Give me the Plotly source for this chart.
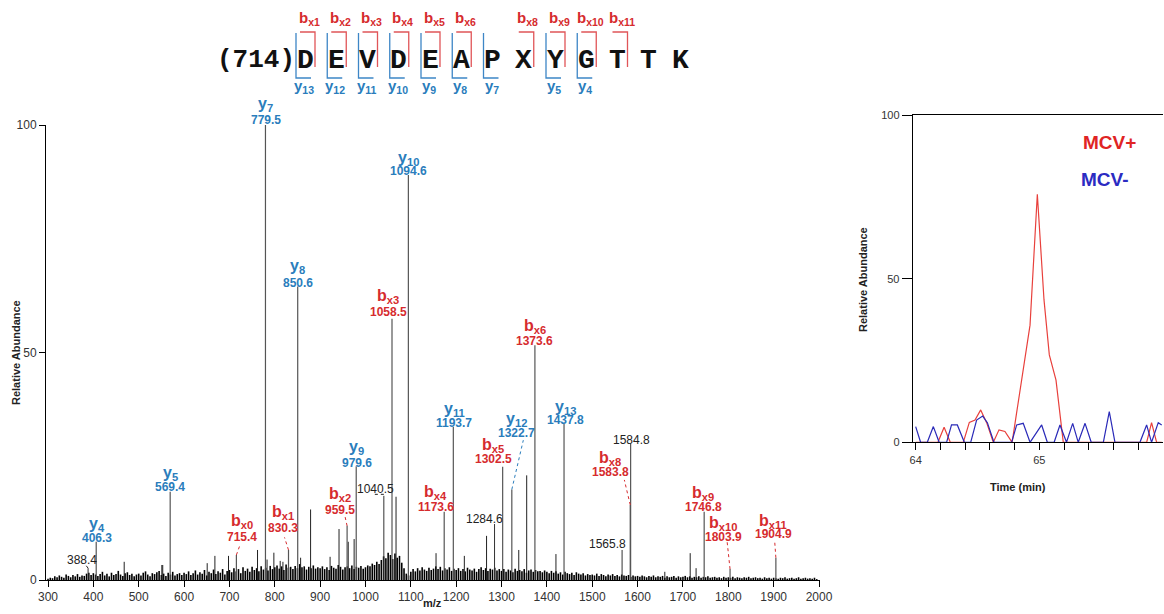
import numpy as np
import plotly.graph_objects as go

W, H = 1164, 614

# ---------------- MS/MS spectrum ----------------
ion_names = ["y4", "y5", "y7", "y8", "y9", "y10", "y11", "y12", "y13",
             "bx0", "bx1", "bx2", "bx3", "bx4", "bx5", "bx6", "bx8", "bx9", "bx10", "bx11"]
ion_mz = [406.3, 569.4, 779.5, 850.6, 979.6, 1094.6, 1193.7, 1322.7, 1437.8,
          715.4, 830.3, 959.5, 1058.5, 1173.6, 1302.5, 1373.6, 1583.8, 1746.8, 1803.9, 1904.9]
ion_abund = [8.4, 19.4, 100.0, 64.5, 25.0, 89.0, 33.7, 19.9, 34.3,
             5.5, 6.6, 11.9, 57.4, 15.0, 24.9, 51.6, 16.5, 15.0, 2.4, 4.9]

other_mz = [388.4, 1040.5, 1284.6, 1565.8, 1584.8]
other_abund = [2.6, 18.5, 12.3, 6.6, 30.0]

minor_mz = [468, 551, 553, 651, 668, 698, 762, 783, 798, 812, 818, 857, 879, 922,
            941.7, 962, 975, 1067.4, 1155.6, 1218, 1267, 1338, 1355.5, 1420,
            1660, 1716, 1729]
minor_abund = [4.0, 3.3, 3.3, 3.7, 5.3, 5.3, 6.6, 4.5, 6.0, 4.2, 4.0, 4.9, 15.5, 5.1,
               11.2, 8.4, 9.0, 18.3, 5.9, 5.3, 9.7, 6.6, 23.0, 5.7,
               1.8, 5.9, 2.6]

# baseline noise, one value every 5 m/z from 300 to 1995
noise_abund = [
    0.3, 0.5, 0.4, 0.8, 0.6, 1.0, 0.7, 0.5, 1.2, 0.9, 0.6, 1.1, 0.8, 1.3, 0.7, 1.0, 0.9, 1.4, 1.6, 1.1,
    1.5, 1.2, 0.9, 1.3, 1.8, 1.0, 1.4, 0.8, 1.6, 1.1, 1.3, 2.0, 1.2, 0.9, 1.5, 1.7, 1.1, 1.4, 0.8, 1.2,
    1.4, 1.0, 1.6, 1.9, 1.2, 0.8, 1.5, 1.3, 1.7, 2.0, 1.1, 1.4, 0.9, 1.6, 1.2, 1.8, 1.0, 1.3, 1.5, 1.1,
    1.6, 1.3, 1.9, 1.1, 1.5, 2.1, 1.2, 1.7, 1.4, 2.2, 1.0, 1.8, 1.5, 2.3, 1.3, 1.9, 1.6, 2.4, 1.2, 2.0,
    2.2, 1.7, 2.6, 1.9, 2.4, 1.5, 2.8, 2.0, 2.5, 1.8, 2.9, 2.2, 2.6, 1.9, 3.0, 2.3, 2.7, 2.1, 3.1, 2.4,
    2.8, 3.2, 2.5, 3.0, 2.2, 3.4, 2.7, 2.9, 2.4, 3.1, 2.6, 3.5, 2.8, 3.0, 2.3, 2.9, 2.6, 3.2, 2.5, 2.8,
    2.6, 3.0, 2.4, 2.8, 2.2, 3.1, 2.7, 2.5, 3.3, 2.9, 2.3, 2.8, 3.0, 2.6, 3.2, 2.4, 2.9, 2.7, 3.1, 2.5,
    2.8, 3.2, 3.0, 3.6, 3.3, 4.0, 3.5, 4.4, 5.2, 4.8, 6.0, 5.5, 4.6, 5.8, 4.9, 5.3, 3.8, 2.6, 1.4, 1.0,
    1.8, 2.4, 1.9, 2.6, 2.1, 2.8, 2.3, 2.0, 2.7, 2.2, 2.5, 3.0, 2.4, 2.9, 2.1, 2.6, 2.3, 2.8, 2.0, 2.5,
    2.2, 2.6, 2.0, 2.4, 1.9, 2.7, 2.3, 2.1, 2.5, 1.8, 2.4, 2.8, 2.2, 2.6, 2.0, 2.5, 2.3, 2.7, 2.1, 2.4,
    2.0, 2.4, 1.8, 2.3, 2.1, 1.7, 2.5, 2.0, 2.2, 1.9, 2.4, 1.6, 2.1, 2.3, 1.8, 2.2, 1.9, 2.0, 1.7, 2.1,
    1.8, 1.5, 2.0, 1.6, 1.9, 1.4, 1.7, 1.2, 1.8, 1.5, 1.3, 1.6, 1.1, 1.7, 1.4, 1.2, 1.5, 1.0, 1.3, 1.1,
    1.2, 1.0, 1.4, 0.9, 1.3, 1.1, 0.8, 1.2, 1.0, 1.3, 0.9, 1.1, 0.8, 1.2, 1.0, 0.9, 1.1, 0.7, 1.0, 0.8,
    0.9, 0.7, 1.0, 0.8, 0.6, 0.9, 0.7, 1.0, 0.6, 0.8, 0.7, 0.9, 0.5, 0.8, 0.6, 0.7, 0.9, 0.5, 0.8, 0.6,
    0.7, 0.9, 0.6, 0.8, 0.5, 0.7, 0.6, 0.8, 0.5, 0.7, 0.6, 0.8, 0.5, 0.6, 0.7, 0.5, 0.6, 0.4, 0.7, 0.5,
    0.6, 0.5, 0.7, 0.4, 0.6, 0.5, 0.4, 0.6, 0.5, 0.7, 0.4, 0.5, 0.6, 0.4, 0.5, 0.3, 0.6, 0.4, 0.5, 0.3,
    0.5, 0.4, 0.3, 0.5, 0.4, 0.6, 0.3, 0.4, 0.5, 0.3, 0.4, 0.6, 0.3, 0.4, 0.5, 0.3, 0.4, 0.3, 0.5, 0.2,
]
noise_mz = np.arange(300, 300 + 5 * len(noise_abund), 5)

# ---------------- extracted ion chromatogram ----------------
red_time = [64.00, 64.18, 64.23, 64.28, 64.385, 64.434, 64.48, 64.526, 64.574, 64.628,
            64.674, 64.722, 64.78, 64.844, 64.925, 64.984, 65.038, 65.081, 65.135, 65.194,
            65.868, 65.908, 65.949, 65.99]
red_abund = [0, 0, 4.6, 0, 0, 6.1, 6.8, 9.9, 6.0, 0,
             3.8, 3.3, 0, 16.0, 35.8, 75.8, 43.5, 26.7, 19.0, 0,
             0, 6.0, 0, 0]
blue_time = [64.00, 64.04, 64.094, 64.143, 64.19, 64.25, 64.29, 64.337, 64.394, 64.445,
             64.493, 64.542, 64.58, 64.633, 64.776, 64.817, 64.87, 64.925, 65.019, 65.065,
             65.12, 65.167, 65.22, 65.27, 65.315, 65.37, 65.42, 65.518, 65.566, 65.612,
             65.814, 65.868, 65.908, 65.962, 65.99]
blue_abund = [4.8, 0, 0, 4.8, 0, 0, 5.3, 5.3, 0, 0,
              6.8, 8.0, 6.0, 0, 0, 5.3, 5.8, 0, 5.3, 0,
              0, 5.3, 0, 5.8, 0, 5.8, 0, 0, 9.4, 0,
              0, 5.3, 0, 6.0, 5.3]

# ---------------- peptide sequence header ----------------
prefix = "(714)"
residues = ["D", "E", "V", "D", "E", "A", "P", "X", "Y", "G", "T", "T", "K"]
b_sites = [1, 2, 3, 4, 5, 6, 8, 9, 10, 11]        # b-type cleavage after residue n
y_sites = [13, 12, 11, 10, 9, 8, 7, 5, 4]          # y ion number

# ---------------- styles ----------------
RED = "#d62b2e"
BLUE = "#2a7dbc"
SANS = "Liberation Sans, Arial, sans-serif"
MONO = "Liberation Mono, Courier New, monospace"

# label placement relative to the peak top, in pixels: (dx, value dy, name dy, leader)
label_pos = {
    "y4": (0.5, 3.4, 17.4, None), "y5": (0, 5, 18.4, None), "y7": (0.5, 5, 20, None),
    "y8": (0, 4, 20, None), "y9": (0.5, 3, 19, None), "y10": (0.6, 4.3, 16.7, None),
    "y11": (1, 4, 16.7, None), "y12": (5, 56.6, 70, (11.5, 49.3)),
    "y13": (1, 4, 16.3, None),
    "bx0": (5.3, 18.3, 33.3, (3.6, 10)), "bx1": (-5.5, 21.7, 37.3, (-4, 12.6)),
    "bx2": (-7, 16, 31, (-2, 9)), "bx3": (-3.7, 7.3, 22.3, None),
    "bx4": (-8.5, 5, 19, None), "bx5": (-9.3, 7.4, 21.7, None), "bx6": (0, 4, 18.3, None),
    "bx8": (-20.2, 33.3, 46.7, (-5.9, 25)), "bx9": (-0.8, 5, 18.4, None),
    "bx10": (-6.7, 32.3, 45.7, (-3, 28)), "bx11": (-2.5, 23.7, 36, (-1.2, 16.7)),
}
other_pos = {388.4: (-6.4, 8, (-3, 4)), 1040.5: (-8.3, 6.7, "flat"),
             1284.6: (-9.8, 4.7, None), 1565.8: (-14.8, 5.7, None), 1584.8: (1, 3.3, None)}


def sticks(mz, ab):
    xs, ys = [], []
    for m, a in zip(mz, ab):
        xs += [m, m, None]
        ys += [0, a, None]
    return xs, ys


def ion_markup(name):
    return "<b>%s<sub>%s</sub></b>" % (name[0], name[1:])


def px(x):
    return x / W


def py(y):
    return 1 - y / H


def paper_text(x, y, text, font, **kw):
    d = dict(x=px(x), y=py(y), xref="paper", yref="paper", text=text, showarrow=False,
             xanchor="center", yanchor="middle", font=font)
    d.update(kw)
    return d


fig = go.Figure()

nx, ny = sticks(noise_mz, noise_abund)
fig.add_trace(go.Scatter(x=nx, y=ny, mode="lines", line=dict(color="#000000", width=1.6),
                         hoverinfo="skip", xaxis="x", yaxis="y"))
mx, my = sticks(minor_mz, minor_abund)
fig.add_trace(go.Scatter(x=mx, y=my, mode="lines", line=dict(color="#222222", width=1),
                         hoverinfo="skip", xaxis="x", yaxis="y"))
ox, oy = sticks(other_mz, other_abund)
fig.add_trace(go.Scatter(x=ox, y=oy, mode="lines", line=dict(color="#333333", width=1),
                         hoverinfo="skip", xaxis="x", yaxis="y"))
ix, iy = sticks(ion_mz, ion_abund)
fig.add_trace(go.Scatter(x=ix, y=iy, mode="lines", line=dict(color="#555555", width=1.2),
                         hoverinfo="skip", xaxis="x", yaxis="y"))

# chromatogram traces
fig.add_trace(go.Scatter(x=red_time, y=red_abund, mode="lines", line=dict(color="#e8403c", width=1.2),
                         hoverinfo="skip", xaxis="x2", yaxis="y2"))
fig.add_trace(go.Scatter(x=blue_time, y=blue_abund, mode="lines", line=dict(color="#2a2ab8", width=1.2),
                         hoverinfo="skip", xaxis="x2", yaxis="y2"))

annotations = []
shapes = []

# ion labels on the spectrum
for name, m, a in zip(ion_names, ion_mz, ion_abund):
    color = RED if name.startswith("b") else BLUE
    dx, vdy, ndy, leader = label_pos[name]
    annotations.append(dict(x=m, y=a, xref="x", yref="y", xshift=dx, yshift=vdy,
                            xanchor="center", yanchor="middle",
                            text="<b>%s</b>" % m, showarrow=False,
                            font=dict(family=SANS, size=12, color=color)))
    annotations.append(dict(x=m, y=a, xref="x", yref="y", xshift=dx, yshift=ndy,
                            xanchor="center", yanchor="middle",
                            text=ion_markup(name), showarrow=False,
                            font=dict(family=SANS, size=16, color=color)))
    if leader is not None:
        shapes.append(dict(type="line", xref="x", yref="y", xsizemode="pixel", ysizemode="pixel",
                           xanchor=m, yanchor=a, x0=0, y0=0, x1=leader[0], y1=leader[1],
                           line=dict(color=color, width=1, dash="dot")))

for m, a in zip(other_mz, other_abund):
    dx, dy, leader = other_pos[m]
    annotations.append(dict(x=m, y=a, xref="x", yref="y", xshift=dx, yshift=dy,
                            xanchor="center", yanchor="middle",
                            text="%s" % m, showarrow=False,
                            font=dict(family=SANS, size=12, color="#222222")))
    if leader == "flat":
        shapes.append(dict(type="line", xref="x", yref="y", xsizemode="pixel", ysizemode="pixel",
                           xanchor=m, yanchor=a, x0=-9, y0=1.5, x1=0, y1=1.5,
                           line=dict(color="#222222", width=1, dash="dot")))
    elif leader is not None:
        shapes.append(dict(type="line", xref="x", yref="y", xsizemode="pixel", ysizemode="pixel",
                           xanchor=m, yanchor=a, x0=0, y0=0, x1=leader[0], y1=leader[1],
                           line=dict(color="#222222", width=1, dash="dot")))

# sequence header
SEQ_X0, SEQ_DX, SEQ_Y = 305, 31.25, 60
annotations.append(paper_text(297, SEQ_Y, "<b>%s</b>" % prefix,
                              dict(family=MONO, size=26, color="#111111"), xanchor="right"))
for i, r in enumerate(residues):
    c = SEQ_X0 + SEQ_DX * i
    annotations.append(paper_text(c, SEQ_Y, "<b>%s</b>" % r,
                                  dict(family=MONO, size=28, color="#111111")))
for n in b_sites:
    c = SEQ_X0 + SEQ_DX * (n - 1)
    shapes.append(dict(type="path", xref="paper", yref="paper",
                       path="M %f %f L %f %f L %f %f" % (px(c - 5), py(32), px(c + 10), py(32),
                                                         px(c + 10), py(67)),
                       line=dict(color="#e05558", width=1.3)))
    annotations.append(paper_text(c + 4, 18, "<b>b<sub>x%d</sub></b>" % n,
                                  dict(family=SANS, size=15, color=RED)))
for k in y_sites:
    c = SEQ_X0 + SEQ_DX * (14 - k - 1)
    shapes.append(dict(type="path", xref="paper", yref="paper",
                       path="M %f %f L %f %f L %f %f" % (px(c - 9), py(33), px(c - 9), py(78),
                                                         px(c + 6), py(78)),
                       line=dict(color="#3d86c6", width=1.3)))
    annotations.append(paper_text(c - 1, 86, "<b>y<sub>%d</sub></b>" % k,
                                  dict(family=SANS, size=15, color=BLUE)))

# axis titles and the chromatogram key
title_font = dict(family=SANS, size=11, color="#222222")
annotations += [
    paper_text(432, 603, "<b>m/z</b>", title_font),
    paper_text(16, 353, "<b>Relative Abundance</b>", title_font, textangle=-90),
    paper_text(1018, 487, "<b>Time (min)</b>", title_font),
    paper_text(863, 280, "<b>Relative Abundance</b>", title_font, textangle=-90),
    paper_text(1109, 142, "<b>MCV+</b>", dict(family=SANS, size=19, color="#e02424")),
    paper_text(1105, 179, "<b>MCV-</b>", dict(family=SANS, size=19, color="#2b2bc2")),
]

axis_common = dict(showgrid=False, zeroline=False, showline=True, linecolor="#000000",
                   linewidth=1, ticks="outside", tickcolor="#000000", automargin=False)

fig.update_layout(
    width=W, height=H, margin=dict(l=0, r=0, t=0, b=0, pad=0, autoexpand=False),
    paper_bgcolor="white", plot_bgcolor="white", showlegend=False,
    xaxis=dict(domain=[px(46), px(820)], range=[295.6, 2002.2], dtick=100, tick0=0,
               ticklen=6, tickfont=dict(family=SANS, size=12, color="#333333"), anchor="y",
               **axis_common),
    yaxis=dict(domain=[py(580), py(125)], range=[0, 100], tickvals=[0, 50, 100],
               ticklen=6, tickfont=dict(family=SANS, size=12, color="#333333"), anchor="x",
               **axis_common),
    xaxis2=dict(domain=[px(912.7), px(1162.7)], range=[63.976, 65.998], tickvals=[64, 65],
                ticklen=7, minor=dict(dtick=0.2, tick0=64, ticks="outside", ticklen=7,
                                      tickcolor="#000000"),
                mirror=True, tickfont=dict(family=SANS, size=11, color="#333333"), anchor="y2",
                **axis_common),
    yaxis2=dict(domain=[py(442.3), py(115)], range=[0, 100], tickvals=[0, 50, 100],
                ticklen=10, tickfont=dict(family=SANS, size=11, color="#333333"), anchor="x2",
                **axis_common),
    annotations=annotations,
    shapes=shapes,
)

fig.write_html("out.html")
